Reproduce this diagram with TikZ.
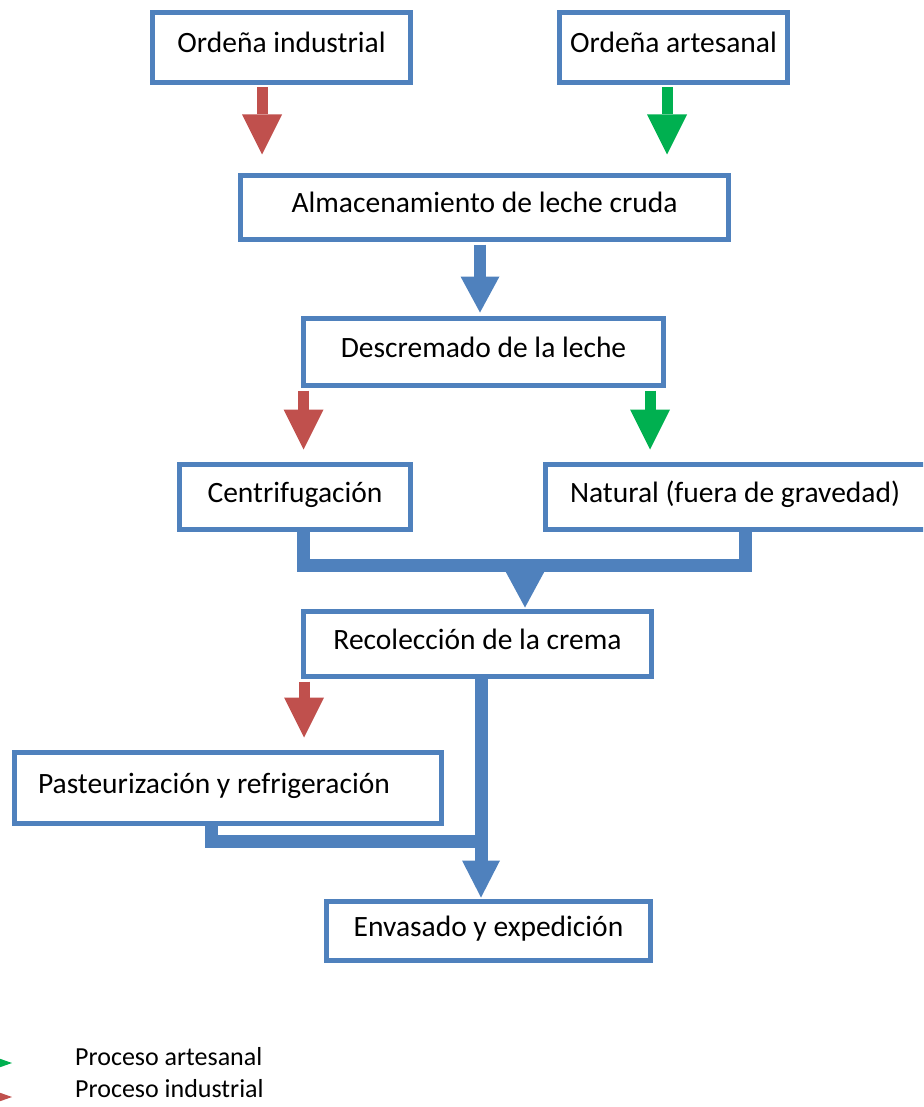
\documentclass[tikz,border=0pt]{standalone}
\usepackage{fontspec}
\setmainfont{Carlito}
\usetikzlibrary{arrows.meta,calc}
\definecolor{bxblue}{HTML}{4F81BD}
\definecolor{arred}{HTML}{C0504D}
\definecolor{argreen}{HTML}{00B050}
\begin{document}
\begin{tikzpicture}[x=1pt,y=-1pt,
  box/.style={draw=bxblue, line width=5pt, fill=white, inner sep=0pt,
    font=\fontsize{29.5}{35}\selectfont, text=black,
    text height=20.6pt, text depth=10.3pt, align=center},
  legendtxt/.style={font=\fontsize{26}{31}\selectfont, text=black, inner sep=0pt},
  rarrow/.style={draw=arred, line width=11pt, shorten <=2.5pt,
    -{Triangle[width=40pt,length=40pt,line width=0pt]}},
  garrow/.style={draw=argreen, line width=11pt, shorten <=2.5pt,
    -{Triangle[width=40pt,length=40pt,line width=0pt]}},
  barrow/.style={draw=bxblue, line width=12pt,
    -{Triangle[width=39pt,length=36pt,line width=0pt]}},
  bline/.style={draw=bxblue, line width=13pt}
]
\useasboundingbox (0,0) rectangle (923,1107);
\clip (0,0) rectangle (923,1107);

% boxes
\node[box, minimum width=258pt, minimum height=70pt] (ind) at (281.5,47.5) {Ordeña industrial};
\node[box, minimum width=228pt, minimum height=70pt] (art) at (673.5,47.5) {Ordeña artesanal};
\node[box, minimum width=488pt, minimum height=64pt] (alm) at (484.5,207.5) {Almacenamiento de leche cruda};
\node[box, minimum width=360pt, minimum height=67pt] (des) at (483.5,352) {Descremado de la leche};
\node[box, minimum width=231pt, minimum height=65pt] (cen) at (295,497) {Centrifugación};
\node[box, minimum width=420pt, minimum height=65pt, inner xsep=24.5pt, text width=371pt, align=flush left] (nat) at (755.5,497) {Natural (fuera de gravedad)};
\node[box, minimum width=348pt, minimum height=65pt] (rec) at (477.5,644) {Recolección de la crema};
\node[box, minimum width=427pt, minimum height=71pt, inner xsep=23.5pt, text width=380pt, align=flush left] (pas) at (228,788) {Pasteurización y refrigeración};
\node[box, minimum width=324pt, minimum height=59pt] (env) at (488.5,931) {Envasado y expedición};

% top arrows
\draw[rarrow] ([xshift=-19.5pt]ind.south) -- ([xshift=-222.5pt,yshift=18.5pt]alm.north);
\draw[garrow] ([xshift=-6.5pt]art.south) -- ([xshift=182.5pt,yshift=18.5pt]alm.north);
\draw[barrow, shorten <=2.5pt] ([xshift=-4.5pt]alm.south) -- ([xshift=-3.5pt,yshift=3.5pt]des.north);
\draw[rarrow] ([xshift=-180pt]des.south) -- ([xshift=8.5pt,yshift=12.5pt]cen.north);
\draw[garrow] ([xshift=166.5pt]des.south) -- ([xshift=-105.5pt,yshift=12.5pt]nat.north);

% merge of the two skimming methods
\coordinate (m) at (525,565);
\draw[bline] ([xshift=8.5pt]cen.south) |- (m) -| ([xshift=-10.5pt]nat.south);
\draw[barrow, line width=13pt, -{Triangle[width=40pt,length=37pt,line width=0pt]}] (m) -- ([yshift=1.5pt]rec.north -| m);

% lower part
\draw[rarrow] ([xshift=-173.5pt]rec.south) -- ([xshift=76pt,yshift=12.5pt]pas.north);
\coordinate (j) at (481,841);
\draw[bline] ([xshift=-16.5pt]pas.south) |- (j);
\draw[barrow, line width=13pt, -{Triangle[width=38pt,length=37pt,line width=0pt]}] ([xshift=3.5pt]rec.south) -- ([xshift=-7.5pt,yshift=1.5pt]env.north);

% legend
\fill[argreen] (-5,1057) -- (12,1063) -- (-5,1069) -- cycle;
\fill[arred] (-5,1091) -- (12,1097) -- (-5,1103) -- cycle;
\node[legendtxt, anchor=base west] (l1) at (75,1065) {Proceso artesanal};
\node[legendtxt, anchor=base west] (l2) at (75,1097) {Proceso industrial};
\end{tikzpicture}
\end{document}
